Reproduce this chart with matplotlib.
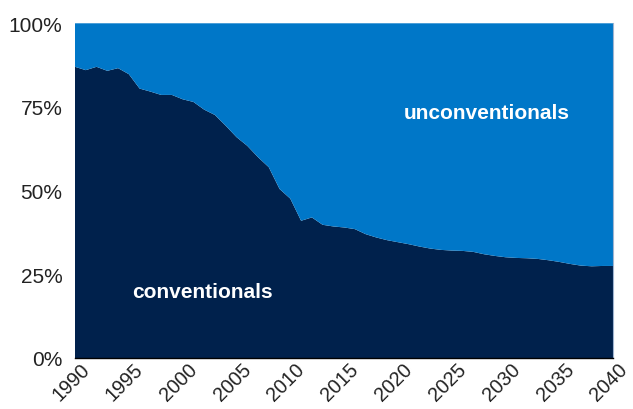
import numpy as np
import matplotlib.pyplot as plt
import matplotlib.transforms as mtransforms
from matplotlib.ticker import FuncFormatter

plt.rcParams["font.family"] = ["Liberation Sans", "DejaVu Sans"]

# ── Data ──────────────────────────────────────────────────────────────────
years = list(range(1990, 2041))
conventionals = [87.0, 86.0, 87.0, 85.8, 86.6, 84.8, 80.5, 79.6, 78.6, 78.6,
                 77.3, 76.5, 74.2, 72.6, 69.4, 66.0, 63.4, 60.0, 57.0, 50.5,
                 47.6, 41.0, 42.0, 39.8, 39.3, 39.0, 38.5, 37.0, 36.0, 35.2,
                 34.6, 34.0, 33.3, 32.7, 32.3, 32.1, 32.0, 31.7, 31.0, 30.5,
                 30.1, 29.9, 29.8, 29.6, 29.2, 28.7, 28.1, 27.6, 27.4, 27.5,
                 27.5]
unconventionals = [100 - v for v in conventionals]
x_ticks = list(range(1990, 2041, 5))
y_ticks = [0, 25, 50, 75, 100]

dark = "#00214C"
light = "#0077C8"

# ── Figure ─────────────────────────────────────────────────────────────────
fig = plt.figure(figsize=(6.33, 4.10), dpi=100)
ax = fig.add_axes([75 / 633, 51 / 410, 538.3 / 633, 334.7 / 410])

ax.stackplot(years, conventionals, unconventionals,
             colors=[dark, light], linewidth=0)

ax.set_xlim(1990, 2040)
ax.set_ylim(0, 100)
ax.set_xticks(x_ticks)
ax.set_xticklabels([str(y) for y in x_ticks], rotation=45, ha="center")
ax.set_yticks(y_ticks)
ax.yaxis.set_major_formatter(FuncFormatter(lambda v, _: f"{v:.0f}%"))
ax.tick_params(axis="both", length=0, colors="#222222")
ax.tick_params(axis="y", pad=9, labelsize=15)
ax.tick_params(axis="x", pad=1, labelsize=14.3)

# nudge rotated year labels a touch left so 2040 stays inside the canvas
shift = mtransforms.ScaledTranslation(-3 / 72, 0, fig.dpi_scale_trans)
for lbl in ax.get_xticklabels():
    lbl.set_transform(lbl.get_transform() + shift)

for side in ["top", "left"]:
    ax.spines[side].set_visible(False)
ax.spines["right"].set_color("#9fb4d0")
ax.spines["right"].set_linewidth(0.8)
ax.spines["bottom"].set_color("black")
ax.spines["bottom"].set_linewidth(1.0)

ax.text(2028.2, 73.4, "unconventionals", color="white", fontsize=15,
        fontweight="bold", ha="center", va="center")
ax.text(2001.8, 20.0, "conventionals", color="white", fontsize=15,
        fontweight="bold", ha="center", va="center")

fig.savefig("out.png", dpi=100)
